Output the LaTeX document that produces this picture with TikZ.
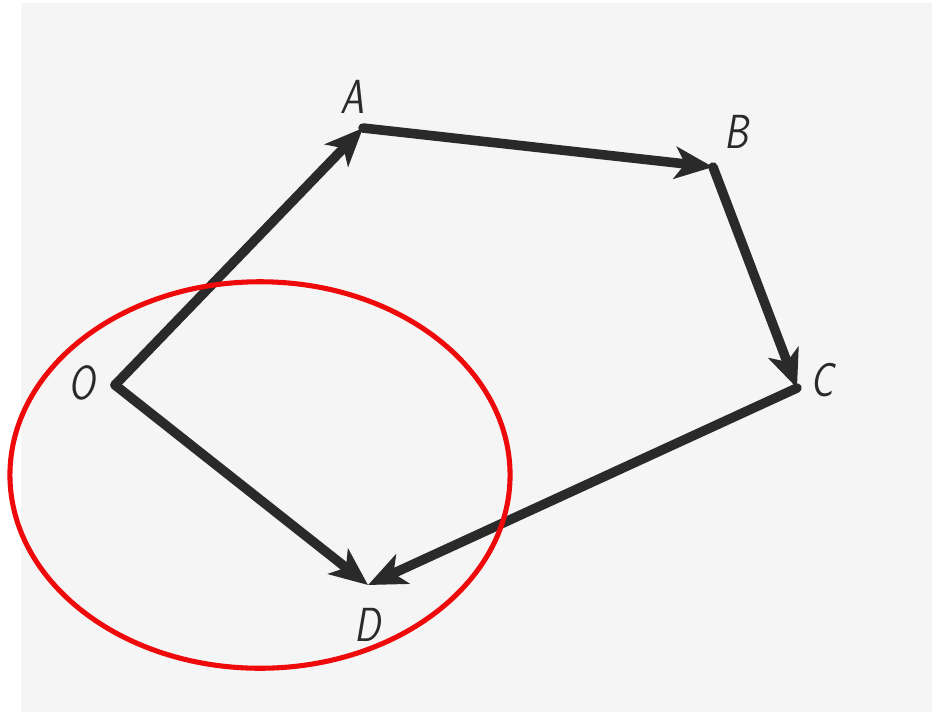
\documentclass[tikz,border=0pt]{standalone}
\usetikzlibrary{arrows.meta}
\definecolor{vecGray}{HTML}{2A2A2A}
\definecolor{bgGray}{HTML}{F5F5F5}
\definecolor{ringRed}{HTML}{EE0A0A}
\begin{document}
\begin{tikzpicture}[
    x=0.025cm,y=-0.025cm,
    vecArr/.style={-{Stealth[length=9.5mm,width=8mm,inset=2.5mm]},line width=6.8pt,draw=vecGray,line cap=round,line join=round},
    ptLbl/.style={font=\fontsize{34}{34}\selectfont\sffamily\itshape,text=vecGray,inner sep=0pt,xscale=0.8},
    loopRing/.style={draw=ringRed,line width=3.6pt},
]
\useasboundingbox (0,0) rectangle (932,712);
\fill[bgGray] (21,3) rectangle (932,712);
\coordinate (O) at (115,385);
\coordinate (A) at (363,128);
\coordinate (B) at (713,167);
\coordinate (C) at (797,388);
\coordinate (D) at (368,585);
\node[ptLbl] (labO) at (82,383) {O};
\node[ptLbl] (labA) at (352,97) {A};
\node[ptLbl] (labB) at (736,132) {B};
\node[ptLbl] (labC) at (822,380) {C};
\node[ptLbl] (labD) at (367,625) {D};
% polygon of vectors
\draw[vecArr] (O) -- (A);
\draw[vecArr] (A) -- (B);
\draw[vecArr] (B) -- (C);
\draw[vecArr] (C) -- (D);
\draw[vecArr] (O) -- (D);
% highlighted part
\draw[loopRing] (260,475) ellipse [x radius=6.25cm,y radius=4.83cm];
\end{tikzpicture}
\end{document}
